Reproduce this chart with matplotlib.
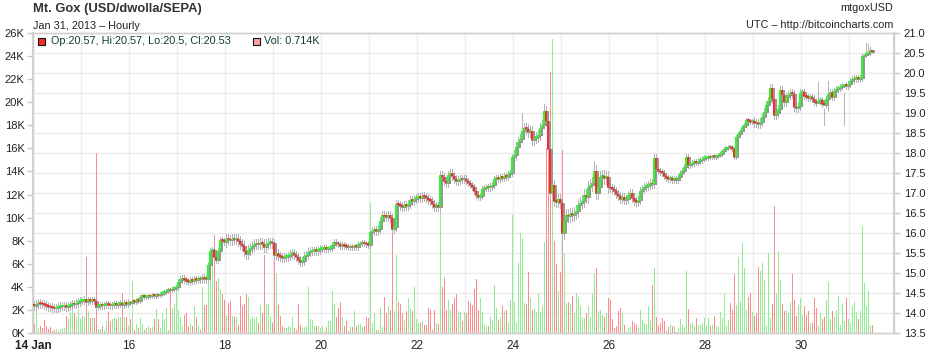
import matplotlib
matplotlib.use("Agg")
import matplotlib.pyplot as plt
import matplotlib.dates as mdates
from matplotlib.patches import Rectangle
import numpy as np
import pandas as pd

plt.rcParams['font.family'] = ['Liberation Sans', 'DejaVu Sans']

# hourly closes, Jan 14 00:00 .. Jan 31 11:00 (USD)
close = [
    14.18, 14.22, 14.24, 14.23, 14.22, 14.20, 14.18, 14.16, 14.14, 14.13, 14.12, 14.13, 14.15, 14.17, 14.17, 14.18, 14.16, 14.18, 14.20, 14.23, 14.22, 14.26, 14.28, 14.30,  # 14
    14.30, 14.34, 14.28, 14.33, 14.30, 14.32, 14.30, 14.16, 14.18, 14.20, 14.19, 14.20, 14.21, 14.20, 14.19, 14.20, 14.22, 14.21, 14.23, 14.24, 14.20, 14.25, 14.23, 14.26,  # 15
    14.24, 14.30, 14.28, 14.32, 14.30, 14.40, 14.42, 14.40, 14.41, 14.43, 14.42, 14.44, 14.43, 14.45, 14.44, 14.48, 14.50, 14.52, 14.56, 14.58, 14.57, 14.60, 14.62, 14.65,  # 16
    14.78, 14.84, 14.88, 14.82, 14.80, 14.78, 14.82, 14.80, 14.84, 14.83, 14.85, 14.84, 14.90, 14.86, 14.84, 15.20, 15.55, 15.58, 15.40, 15.32, 15.55, 15.82, 15.80, 15.78,  # 17
    15.86, 15.84, 15.82, 15.85, 15.84, 15.86, 15.80, 15.72, 15.68, 15.55, 15.48, 15.58, 15.62, 15.68, 15.72, 15.74, 15.72, 15.75, 15.73, 15.65, 15.72, 15.75, 15.76, 15.74,  # 18
    15.45, 15.50, 15.42, 15.40, 15.38, 15.40, 15.41, 15.42, 15.48, 15.50, 15.45, 15.40, 15.32, 15.28, 15.30, 15.42, 15.45, 15.52, 15.54, 15.55, 15.56, 15.55, 15.58, 15.60,  # 19
    15.60, 15.62, 15.60, 15.61, 15.63, 15.70, 15.78, 15.74, 15.72, 15.68, 15.70, 15.68, 15.66, 15.64, 15.65, 15.64, 15.66, 15.65, 15.72, 15.74, 15.76, 15.74, 15.72, 15.70,  # 20
    16.02, 16.05, 16.08, 16.06, 16.10, 16.30, 16.45, 16.42, 16.40, 16.44, 16.38, 16.10, 16.15, 16.72, 16.70, 16.68, 16.66, 16.70, 16.68, 16.72, 16.82, 16.80, 16.85, 16.88,  # 21
    16.90, 16.88, 16.92, 16.90, 16.88, 16.82, 16.80, 16.72, 16.66, 16.68, 16.65, 17.45, 17.40, 17.30, 17.25, 17.45, 17.50, 17.42, 17.35, 17.30, 17.32, 17.35, 17.34, 17.36,  # 22
    17.30, 17.25, 17.20, 17.15, 17.05, 16.95, 16.90, 16.92, 17.10, 17.12, 17.15, 17.14, 17.16, 17.20, 17.35, 17.38, 17.36, 17.40, 17.38, 17.42, 17.40, 17.48, 17.50, 17.90,  # 23
    17.95, 18.15, 18.28, 18.35, 18.55, 18.62, 18.60, 18.52, 18.56, 18.33, 18.38, 18.40, 18.45, 18.62, 18.70, 19.05, 18.80, 18.10, 17.00, 17.20, 16.80, 16.78, 16.85, 16.75,  # 24
    16.00, 16.30, 16.45, 16.42, 16.48, 16.45, 16.50, 16.55, 16.70, 16.75, 16.80, 16.95, 16.90, 17.15, 17.20, 17.25, 17.55, 17.00, 17.15, 17.40, 17.42, 17.38, 17.40, 17.15,  # 25
    17.12, 17.10, 17.05, 16.98, 16.92, 16.85, 16.90, 16.82, 16.85, 16.95, 17.00, 16.88, 16.80, 16.78, 16.82, 17.05, 17.10, 17.15, 17.18, 17.20, 17.25, 17.22, 17.88, 17.60,  # 26
    17.55, 17.52, 17.50, 17.42, 17.38, 17.35, 17.36, 17.33, 17.35, 17.32, 17.40, 17.50, 17.55, 17.65, 17.90, 17.70, 17.72, 17.75, 17.78, 17.76, 17.80, 17.82, 17.86, 17.88,  # 27
    17.88, 17.90, 17.89, 17.91, 17.90, 17.92, 17.95, 17.98, 18.05, 18.10, 18.12, 18.15, 18.14, 18.10, 17.90, 18.40, 18.48, 18.55, 18.65, 18.70, 18.82, 18.80, 18.78, 18.80,  # 28
    18.76, 18.74, 18.72, 18.78, 18.90, 19.02, 19.20, 19.30, 19.62, 19.35, 18.95, 19.00, 19.10, 19.57, 19.45, 19.27, 19.40, 19.45, 19.50, 19.48, 19.15, 19.12, 19.18, 19.50,  # 29
    19.52, 19.42, 19.40, 19.38, 19.40, 19.36, 19.28, 19.26, 19.30, 19.32, 19.22, 19.20, 19.35, 19.48, 19.52, 19.40, 19.55, 19.60, 19.62, 19.65, 19.68, 19.70, 19.68, 19.72,  # 30
    19.80, 19.84, 19.86, 19.87, 19.86, 19.88, 20.42, 20.45, 20.48, 20.52, 20.57, 20.53,  # 31
]

# hourly volume (thousand BTC)
volume = [
    0.8, 2.7, 0.4, 0.6, 0.4, 1.1, 0.6, 0.35, 0.5, 0.2, 0.3, 0.35, 0.2, 0.35, 0.4, 0.4, 1.5, 1.3, 1.8, 2.0, 1.7, 1.4, 2.1, 1.2,
    1.5, 1.4, 6.6, 1.9, 1.3, 1.3, 1.3, 15.6, 0.35, 0.35, 0.6, 0.3, 1.0, 1.8, 1.0, 1.2, 1.3, 1.2, 1.4, 1.4, 3.5, 1.4, 1.4, 0.6,
    1.2, 4.5, 0.3, 0.8, 0.4, 1.3, 0.8, 0.3, 0.4, 0.6, 0.4, 0.5, 1.2, 2.1, 1.2, 0.4, 1.7, 1.2, 2.2, 0.3, 3.8, 2.2, 2.5, 3.7,
    2.0, 1.4, 0.6, 1.6, 1.7, 0.6, 0.9, 0.6, 2.3, 1.4, 0.6, 0.3, 4.0, 2.4, 2.4, 4.9, 6.6, 6.1, 8.5, 4.5, 4.8, 3.8, 3.4, 2.9,
    1.5, 2.6, 2.8, 1.5, 1.4, 1.4, 0.7, 3.2, 2.3, 2.5, 3.4, 3.1, 1.2, 1.4, 1.2, 1.4, 0.9, 2.4, 1.7, 6.8, 2.5, 2.5, 1.5, 0.9,
    6.4, 5.1, 2.4, 1.5, 0.6, 0.4, 0.4, 0.6, 0.5, 1.4, 0.4, 0.3, 2.5, 0.7, 0.5, 0.5, 0.6, 4.0, 1.2, 1.1, 0.6, 0.6, 0.6, 0.4,
    0.6, 0.2, 0.5, 1.0, 1.0, 3.6, 2.5, 1.4, 2.2, 2.7, 1.4, 0.6, 1.0, 0.2, 0.5, 0.5, 1.9, 0.6, 0.8, 0.8, 0.5, 0.6, 1.4, 1.3,
    11.3, 0.9, 1.7, 0.3, 0.3, 2.2, 0.5, 3.1, 1.7, 2.3, 2.0, 9.0, 1.9, 6.8, 2.7, 2.5, 1.7, 1.1, 1.9, 3.0, 2.2, 1.9, 4.0, 1.2,
    0.9, 0.9, 1.0, 0.7, 0.7, 2.2, 2.0, 0.3, 2.0, 0.9, 0.8, 11.3, 4.0, 4.8, 2.0, 2.9, 2.0, 2.5, 3.0, 3.4, 1.9, 1.8, 1.0, 1.8,
    1.7, 2.8, 2.6, 2.4, 3.8, 4.7, 2.0, 3.0, 1.8, 0.7, 0.6, 0.6, 1.4, 1.1, 4.2, 2.2, 1.1, 1.4, 2.4, 1.9, 2.0, 0.9, 2.9, 10.2,
    2.7, 0.9, 6.1, 8.7, 8.2, 2.6, 2.5, 5.3, 3.0, 2.0, 2.1, 1.8, 3.4, 1.8, 2.3, 7.9, 16.0, 16.0, 22.6, 25.5, 8.0, 6.0, 3.6, 5.3,
    15.9, 6.9, 2.6, 2.7, 2.5, 3.2, 1.7, 3.5, 3.1, 2.3, 1.4, 1.3, 1.7, 2.3, 1.4, 3.5, 5.1, 5.6, 1.9, 2.0, 1.6, 1.4, 1.7, 3.0,
    2.9, 1.2, 0.4, 0.6, 1.9, 2.2, 1.7, 0.7, 0.2, 0.4, 0.5, 1.0, 0.9, 0.7, 0.4, 2.0, 1.1, 0.9, 0.8, 2.3, 1.1, 4.2, 5.6, 1.4,
    0.6, 0.9, 1.3, 1.0, 0.2, 0.5, 0.7, 0.6, 0.6, 0.1, 0.35, 1.2, 0.8, 0.5, 5.4, 2.1, 0.8, 0.9, 0.6, 1.3, 0.7, 0.7, 0.9, 1.3,
    0.6, 1.3, 0.6, 0.7, 1.5, 0.5, 0.6, 1.8, 1.3, 3.4, 0.7, 1.1, 2.6, 2.0, 5.1, 2.4, 6.6, 2.8, 7.8, 5.6, 2.0, 3.1, 3.5, 1.8,
    1.5, 1.7, 5.7, 5.4, 6.1, 4.6, 0.7, 6.9, 1.3, 2.5, 11.0, 3.5, 7.1, 4.6, 2.5, 1.9, 2.0, 1.7, 2.7, 5.1, 2.9, 1.5, 2.4, 3.0,
    1.6, 2.3, 1.6, 1.9, 0.9, 0.9, 3.0, 2.2, 0.6, 1.7, 1.2, 1.4, 2.9, 4.4, 1.2, 1.9, 1.4, 2.0, 3.2, 0.7, 2.5, 1.0, 3.0, 1.2,
    0.9, 2.3, 2.7, 1.8, 1.2, 1.9, 9.3, 4.3, 2.3, 3.6, 0.7, 0.714,
]

first_open = 14.20
# typical wick length beyond the body, per day (Jan 14 .. Jan 31)
day_wick = [0.10, 0.08, 0.05, 0.08, 0.12, 0.10, 0.07, 0.10, 0.10, 0.08,
            0.12, 0.15, 0.10, 0.07, 0.05, 0.10, 0.08, 0.08]
# hour index -> (high, low) where the wick is much longer than usual
spikes = {31: (14.30, 14.02), 244: (19.00, 18.45), 255: (19.22, 18.68),
          264: (16.80, 15.40), 280: (17.80, 17.20), 350: (18.12, 17.85),
          392: (19.78, 19.28), 395: (19.10, 18.70), 397: (19.80, 19.05),
          405: (19.50, 18.70), 415: (20.47, 20.30), 416: (20.75, 20.40),
          417: (20.72, 20.45), 419: (20.57, 20.50)}

close = np.array(close)
volume = np.array(volume)
opens = np.concatenate([[first_open], close[:-1]])
up = close >= opens
day = np.arange(len(close)) // 24
wick = np.array(day_wick)[day]
high = np.maximum(opens, close) + wick
low = np.minimum(opens, close) - wick
for i, (hi, lo) in spikes.items():
    high[i], low[i] = hi, lo

t0 = pd.Timestamp('2013-01-14 00:00')
times = pd.date_range(t0, periods=len(close), freq='h')
x = mdates.date2num(times) + 0.5 / 24
x0 = mdates.date2num(t0)

W, H = 939, 357
fig = plt.figure(figsize=(W / 100, H / 100), dpi=100)
ax = fig.add_axes([33 / W, 24 / H, 861 / W, 300 / H])
ax2 = ax.twinx()

# volume
vcol = np.where(up, '#90ee90', '#ff8c8c')
ax.vlines(x, 0, volume, colors=vcol, linewidth=0.72, antialiased=False)

# candles: gray wick, gray frame, coloured core drawn on top
ax2.vlines(x, low, high, colors='#b4b4b4', linewidth=0.72,
           antialiased=False, zorder=1)
body = np.maximum(np.abs(close - opens), 0.04)
bottom = np.minimum(opens, close)
ax2.bar(x, body, bottom=bottom, width=1.5 / 24, color='#969696',
        edgecolor='#969696', linewidth=0.72, antialiased=False, zorder=2)
ccol = np.where(up, '#22ff22', '#ff2a2a')
ax2.bar(x, body, bottom=bottom, width=0.8 / 24, color=ccol,
        linewidth=0, antialiased=False, zorder=3)

ax.set_xlim(x0, x0 + 861 / 48)
ax.set_ylim(0, 26)
ax2.set_ylim(13.5, 21.0)

vt = np.arange(0, 27, 2)
ax.set_yticks(vt)
ax.set_yticklabels([f'{v}K' for v in vt])
ax.set_yticks(np.linspace(0, 26, 16), minor=True)
pt = np.arange(13.5, 21.01, 0.5)
ax2.set_yticks(pt)
ax2.set_yticklabels([f'{v:.1f}' for v in pt])

days = pd.date_range('2013-01-14', '2013-01-31', freq='D')
ax.set_xticks(mdates.date2num(days))
labels = []
for d in days:
    if d.day == 14:
        labels.append('14 Jan')
    elif d.day % 2 == 0:
        labels.append(str(d.day))
    else:
        labels.append('')
ax.set_xticklabels(labels)
ax.get_xticklabels()[0].set_fontweight('bold')

ax.grid(which='minor', axis='y', color='#ebebeb', linewidth=1)
ax.grid(which='major', axis='x', color='#ebebeb', linewidth=1)
ax.set_axisbelow(True)

ax.tick_params(axis='x', length=0, pad=5, labelsize=8.5, labelcolor='#222222')
ax.tick_params(axis='y', which='major', length=4, width=1, color='#c8c8c8',
               pad=2, labelsize=8, labelcolor='#222222')
ax.tick_params(axis='y', which='minor', length=0)
ax2.tick_params(axis='y', length=4, width=1, color='#c8c8c8', pad=3,
                labelsize=8, labelcolor='#222222')
for a in (ax, ax2):
    for s in a.spines.values():
        s.set_color('#d0d0d0')
        s.set_linewidth(1)
ax.spines['left'].set_linewidth(1.5)
ax2.spines['right'].set_linewidth(1.5)

# header
fig.text(33 / W, 1 - 9 / H, 'Mt. Gox (USD/dwolla/SEPA)', fontsize=9.4,
         fontweight='bold', color='#333333', va='center')
fig.text(33 / W, 1 - 26 / H, 'Jan 31, 2013 \u2013 Hourly', fontsize=7.8,
         color='#222222', va='center')
fig.text(893 / W, 1 - 8 / H, 'mtgoxUSD', fontsize=7.8, color='#222222',
         ha='right', va='center')
fig.text(893 / W, 1 - 25 / H, 'UTC \u2013 http://bitcoincharts.com', fontsize=7.8,
         color='#222222', ha='right', va='center')

# legend for the last candle
ol, hl, ll, cl = opens[-1], high[-1], low[-1], close[-1]
fig.patches.append(Rectangle((38 / W, 1 - 45 / H), 7 / W, 7 / H,
                             transform=fig.transFigure, facecolor='#ff2a2a',
                             edgecolor='#111111', linewidth=0.8))
fig.text(51 / W, 1 - 41.5 / H, f'Op:{ol:g}, Hi:{hl:g}, Lo:{ll:g}, Cl:{cl:g}',
         fontsize=7.8, color='#0b3b3b', va='center')
fig.patches.append(Rectangle((253 / W, 1 - 45 / H), 7 / W, 7 / H,
                             transform=fig.transFigure, facecolor='#ff9f9f',
                             edgecolor='#111111', linewidth=0.8))
fig.text(264 / W, 1 - 41.5 / H, f'Vol: {volume[-1]:.3f}K',
         fontsize=7.8, color='#0b3b3b', va='center')

fig.savefig('out.png', dpi=100)
